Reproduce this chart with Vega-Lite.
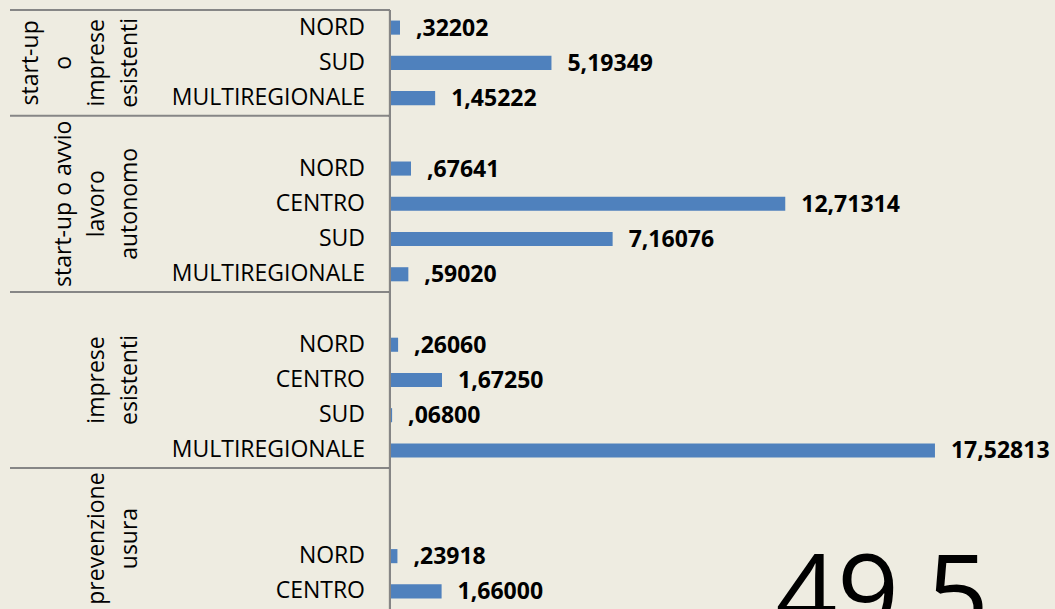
{
  "$schema": "https://vega.github.io/schema/vega-lite/v6.json",
  "width": 1045,
  "height": 599,
  "autosize": {"type": "none"},
  "padding": {"left": 10, "top": 10, "right": 0, "bottom": 0},
  "background": "#EEECE1",
  "config": {"view": {"stroke": null}, "font": "Open Sans"},
  "datasets": {
    "rows": [
      {"id": 1, "group": "start-up\no\nimprese\nesistenti", "region": "NORD", "value": 0.32202},
      {"id": 2, "group": "start-up\no\nimprese\nesistenti", "region": "SUD", "value": 5.19349},
      {"id": 3, "group": "start-up\no\nimprese\nesistenti", "region": "MULTIREGIONALE", "value": 1.45222},
      {"id": 4, "group": "start-up o avvio\nlavoro\nautonomo", "region": "", "value": null},
      {"id": 5, "group": "start-up o avvio\nlavoro\nautonomo", "region": "NORD", "value": 0.67641},
      {"id": 6, "group": "start-up o avvio\nlavoro\nautonomo", "region": "CENTRO", "value": 12.71314},
      {"id": 7, "group": "start-up o avvio\nlavoro\nautonomo", "region": "SUD", "value": 7.16076},
      {"id": 8, "group": "start-up o avvio\nlavoro\nautonomo", "region": "MULTIREGIONALE", "value": 0.5902},
      {"id": 9, "group": "imprese\nesistenti", "region": "", "value": null},
      {"id": 10, "group": "imprese\nesistenti", "region": "NORD", "value": 0.2606},
      {"id": 11, "group": "imprese\nesistenti", "region": "CENTRO", "value": 1.6725},
      {"id": 12, "group": "imprese\nesistenti", "region": "SUD", "value": 0.068},
      {"id": 13, "group": "imprese\nesistenti", "region": "MULTIREGIONALE", "value": 17.52813},
      {"id": 14, "group": "prevenzione\nusura", "region": "", "value": null},
      {"id": 15, "group": "prevenzione\nusura", "region": "", "value": null},
      {"id": 16, "group": "prevenzione\nusura", "region": "NORD", "value": 0.23918},
      {"id": 17, "group": "prevenzione\nusura", "region": "CENTRO", "value": 1.66}
    ],
    "note": [{"total": "49,5"}]
  },
  "resolve": {"scale": {"y": "independent"}},
  "layer": [
    {
      "layer": [
        {
          "data": {"name": "rows"},
          "mark": {"type": "bar", "color": "#4F81BD", "height": {"band": 0.4}},
          "encoding": {
            "x": {"field": "value", "type": "quantitative", "scale": {"domain": [-12.222, 21.389], "nice": false, "zero": false}, "axis": null},
            "y": {"field": "id", "type": "ordinal", "scale": {"paddingInner": 0, "paddingOuter": 0}, "axis": null}
          }
        },
        {
          "data": {"name": "rows"},
          "transform": [
            {"filter": "datum.value != null"},
            {"calculate": "datum.value < 1 ? slice(replace(format(datum.value, '.5f'), '.', ','), 1) : replace(format(datum.value, '.5f'), '.', ',')", "as": "label"}
          ],
          "mark": {"type": "text", "align": "left", "baseline": "middle", "dx": 16, "dy": 1, "fontSize": 23, "fontWeight": "bold", "color": "#000000"},
          "encoding": {
            "x": {"field": "value", "type": "quantitative", "scale": {"domain": [-12.222, 21.389], "nice": false, "zero": false}, "axis": null},
            "y": {"field": "id", "type": "ordinal", "axis": null},
            "text": {"field": "label"}
          }
        },
        {
          "data": {"name": "rows"},
          "mark": {"type": "text", "align": "right", "baseline": "middle", "dx": -25, "fontSize": 23, "color": "#000000"},
          "encoding": {
            "x": {"datum": 0, "type": "quantitative", "scale": {"domain": [-12.222, 21.389], "nice": false, "zero": false}, "axis": null},
            "y": {"field": "id", "type": "ordinal", "axis": null},
            "text": {"field": "region"}
          }
        },
        {
          "data": {"name": "rows"},
          "transform": [
            {"joinaggregate": [{"op": "min", "field": "id", "as": "first"}], "groupby": ["group"]},
            {"filter": "datum.id == datum.first"}
          ],
          "mark": {"type": "rule", "color": "#868686", "strokeWidth": 2},
          "encoding": {
            "x": {"datum": -12.222, "type": "quantitative", "scale": {"domain": [-12.222, 21.389], "nice": false, "zero": false}, "axis": null},
            "x2": {"datum": 0},
            "y": {"field": "id", "type": "ordinal", "bandPosition": 0, "axis": null}
          }
        },
        {
          "data": {"name": "rows"},
          "mark": {"type": "rule", "color": "#868686", "strokeWidth": 2},
          "encoding": {
            "x": {"datum": 0, "type": "quantitative", "scale": {"domain": [-12.222, 21.389], "nice": false, "zero": false}, "axis": null}
          }
        }
      ]
    },
    {
      "layer": [
        {
          "data": {"name": "rows"},
          "transform": [
            {"aggregate": [{"op": "mean", "field": "id", "as": "mid"}], "groupby": ["group"]},
            {"filter": "length(split(datum.group, '\\n')) == 4"}
          ],
          "mark": {"type": "text", "angle": 270, "align": "center", "baseline": "bottom", "fontSize": 23, "lineHeight": 33, "lineBreak": "\n", "color": "#000000"},
          "encoding": {
            "x": {"datum": -11.17, "type": "quantitative", "scale": {"domain": [-12.222, 21.389], "nice": false, "zero": false}, "axis": null},
            "y": {"field": "mid", "type": "quantitative", "scale": {"domain": [0.5, 17.5], "reverse": true, "nice": false, "zero": false}, "axis": null},
            "text": {"field": "group"}
          }
        },
        {
          "data": {"name": "rows"},
          "transform": [
            {"aggregate": [{"op": "mean", "field": "id", "as": "mid"}], "groupby": ["group"]},
            {"filter": "length(split(datum.group, '\\n')) == 3"}
          ],
          "mark": {"type": "text", "angle": 270, "align": "center", "baseline": "bottom", "fontSize": 23, "lineHeight": 33, "lineBreak": "\n", "color": "#000000"},
          "encoding": {
            "x": {"datum": -10.11, "type": "quantitative", "scale": {"domain": [-12.222, 21.389], "nice": false, "zero": false}, "axis": null},
            "y": {"field": "mid", "type": "quantitative", "scale": {"domain": [0.5, 17.5], "reverse": true, "nice": false, "zero": false}, "axis": null},
            "text": {"field": "group"}
          }
        },
        {
          "data": {"name": "rows"},
          "transform": [
            {"aggregate": [{"op": "mean", "field": "id", "as": "mid"}], "groupby": ["group"]},
            {"filter": "length(split(datum.group, '\\n')) == 2"}
          ],
          "mark": {"type": "text", "angle": 270, "align": "center", "baseline": "bottom", "fontSize": 23, "lineHeight": 33, "lineBreak": "\n", "color": "#000000"},
          "encoding": {
            "x": {"datum": -9.05, "type": "quantitative", "scale": {"domain": [-12.222, 21.389], "nice": false, "zero": false}, "axis": null},
            "y": {"field": "mid", "type": "quantitative", "scale": {"domain": [0.5, 17.5], "reverse": true, "nice": false, "zero": false}, "axis": null},
            "text": {"field": "group"}
          }
        },
        {
          "data": {"name": "note"},
          "mark": {"type": "text", "align": "left", "baseline": "alphabetic", "fontSize": 108, "color": "#000000"},
          "encoding": {
            "x": {"datum": 12.4, "type": "quantitative", "scale": {"domain": [-12.222, 21.389], "nice": false, "zero": false}, "axis": null},
            "y": {"datum": 18.15, "type": "quantitative", "scale": {"domain": [0.5, 17.5], "reverse": true, "nice": false, "zero": false}, "axis": null},
            "text": {"field": "total"}
          }
        }
      ]
    }
  ]
}
